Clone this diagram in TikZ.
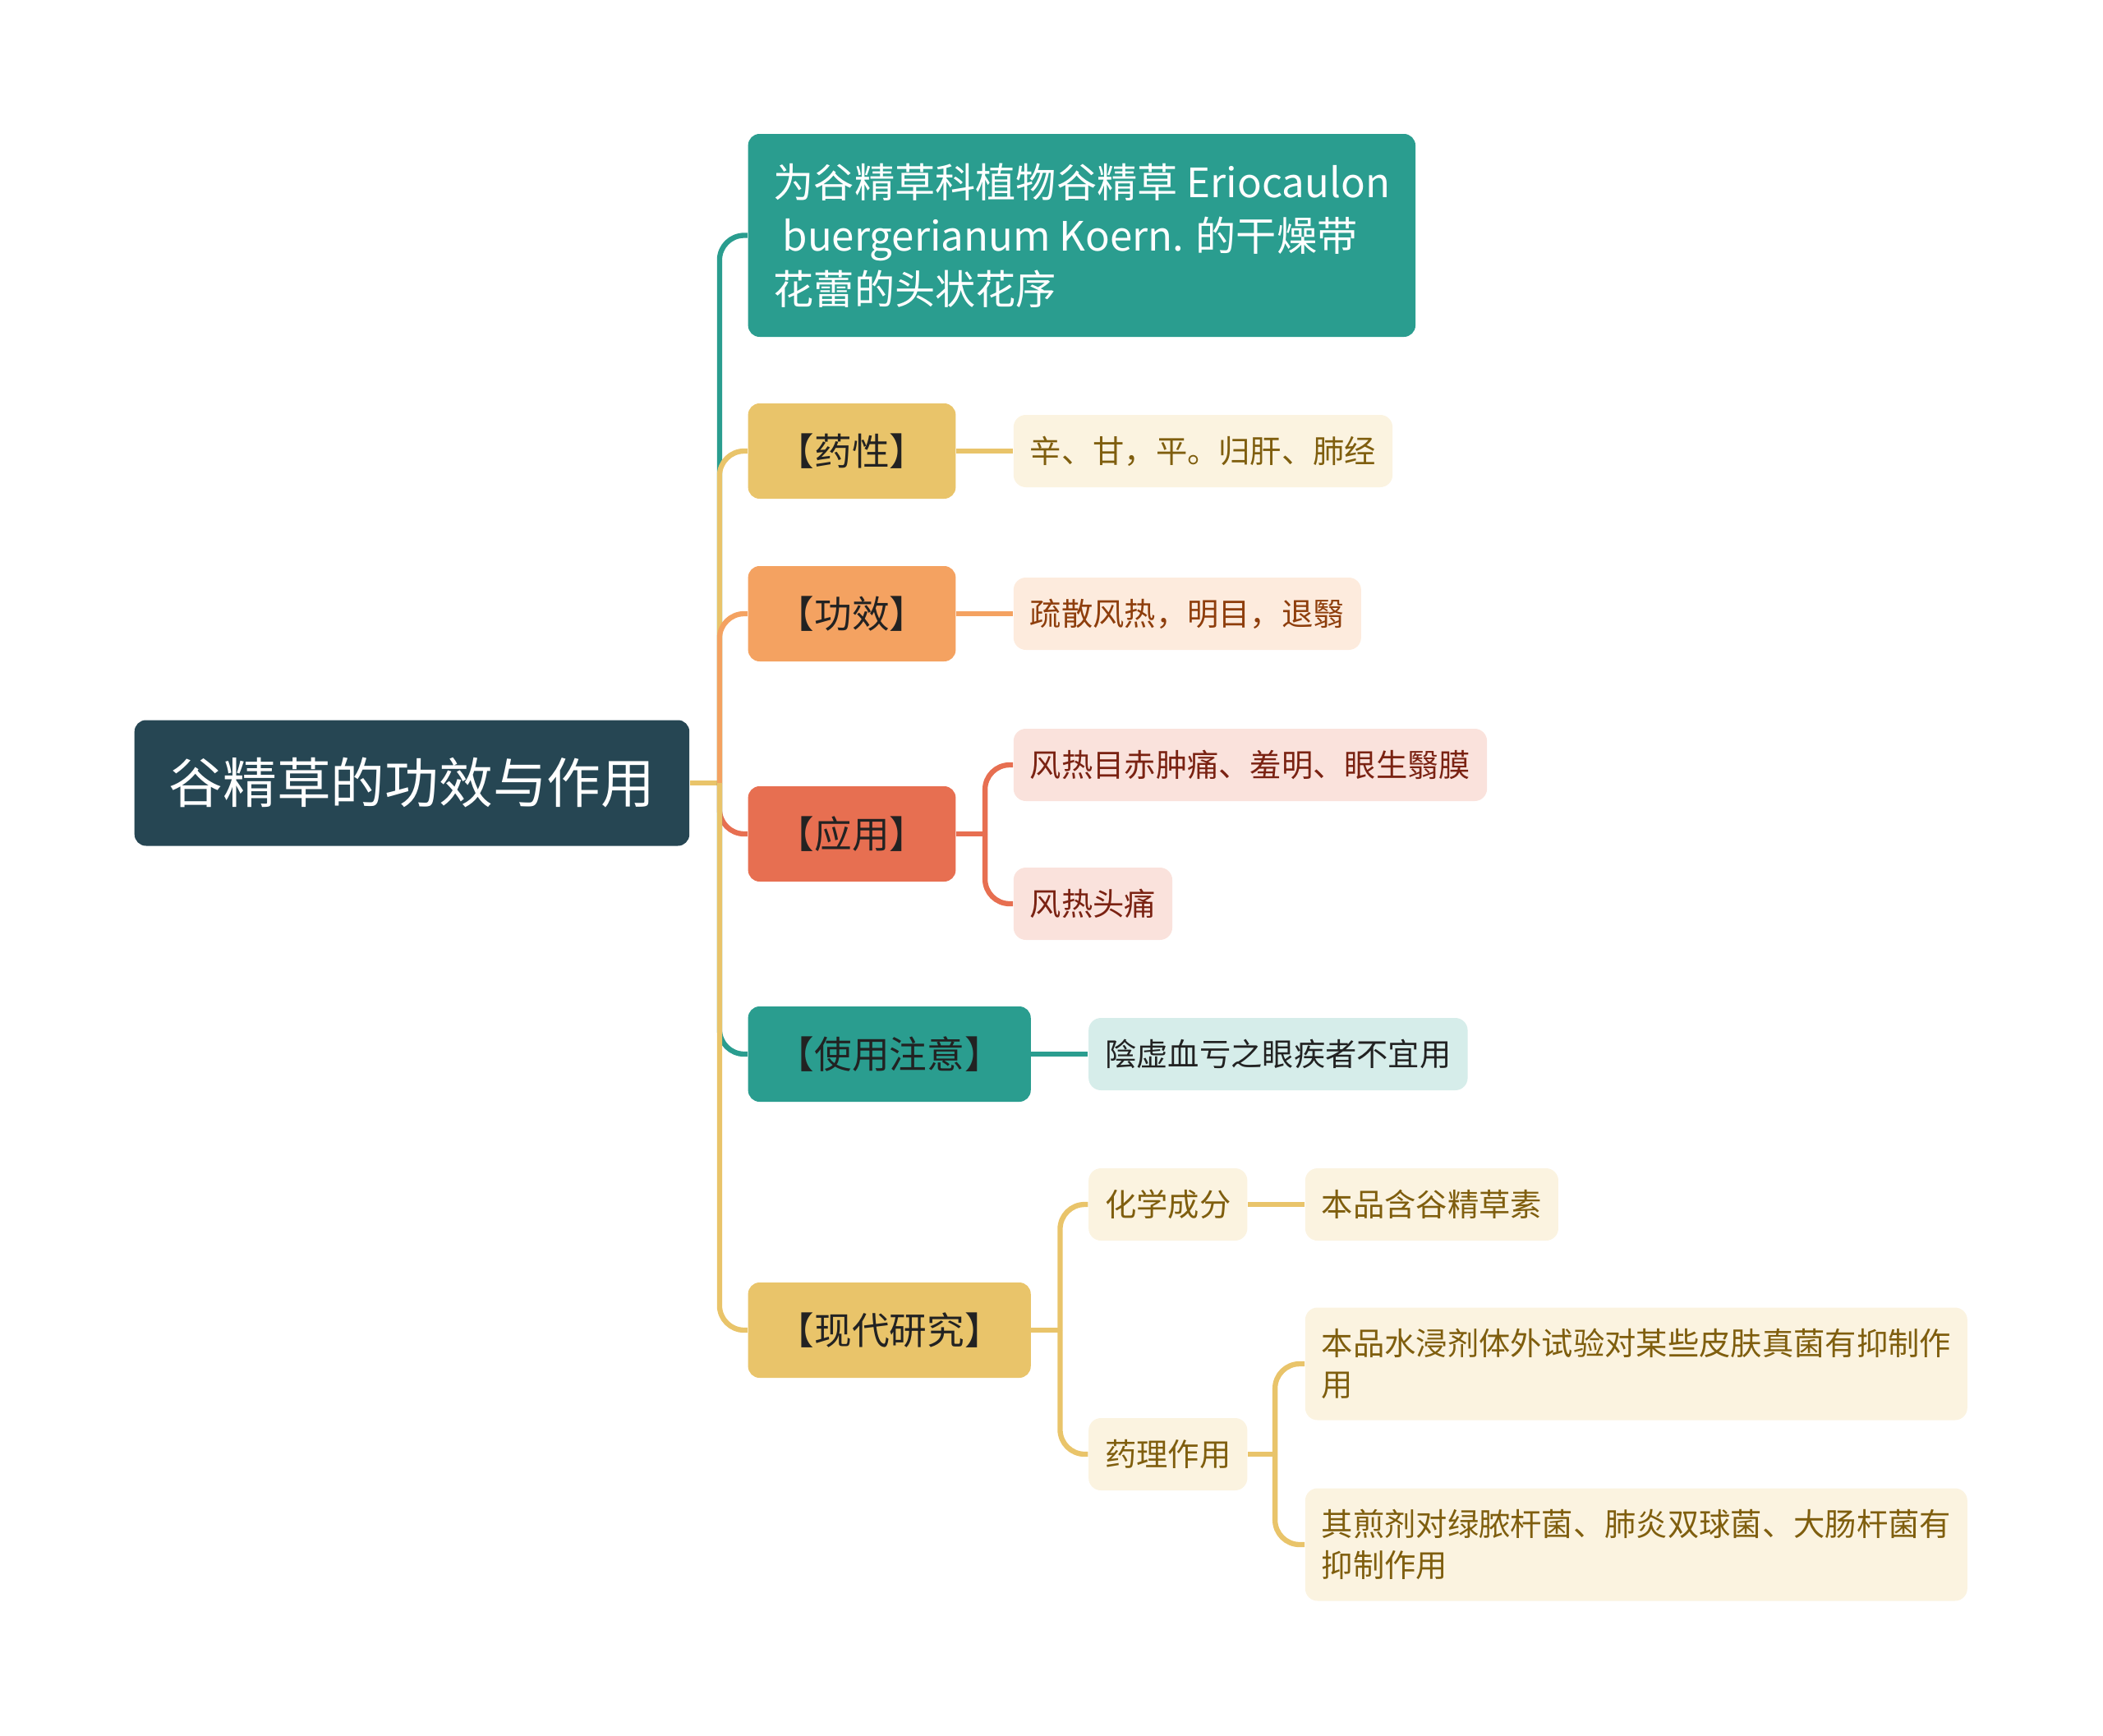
\documentclass[tikz,border=0pt]{standalone}
\usepackage{fontspec}
\setmainfont{Noto Sans CJK SC}
\usepackage{tikz}
\usetikzlibrary{positioning, calc}

\definecolor{rootBlue}{HTML}{264653}
\definecolor{cTeal}{HTML}{2A9D8F}
\definecolor{cGold}{HTML}{E9C46A}
\definecolor{cOrange}{HTML}{F4A261}
\definecolor{cRed}{HTML}{E76F51}
\definecolor{fGold}{HTML}{FBF3E0}
\definecolor{fOrange}{HTML}{FDEBDD}
\definecolor{fRed}{HTML}{FAE2DC}
\definecolor{fTeal}{HTML}{D6EDEA}
\definecolor{tGold}{HTML}{7F5E0E}
\definecolor{tOrange}{HTML}{8E3E0C}
\definecolor{tRed}{HTML}{7A2212}
\definecolor{tDark}{HTML}{222222}

\begin{document}
\begin{tikzpicture}[
    rootBox/.style={rectangle, rounded corners=0.14cm, fill=rootBlue, text=white, inner xsep=0.42cm, minimum height=1.53cm, font=\fontsize{18.7pt}{22pt}\selectfont},
    mainBox/.style={rectangle, rounded corners=0.14cm, inner xsep=0.35cm, minimum height=1.16cm, text=tDark, font=\fontsize{13pt}{16pt}\selectfont},
    mainTeal/.style={mainBox, fill=cTeal},
    mainGold/.style={mainBox, fill=cGold},
    mainOrange/.style={mainBox, fill=cOrange},
    mainRed/.style={mainBox, fill=cRed},
    leafBox/.style={rectangle, rounded corners=0.15cm, inner xsep=0.2cm, minimum height=0.88cm, font=\fontsize{10.9pt}{14.4pt}\selectfont},
    leafGold/.style={leafBox, fill=fGold, text=tGold},
    leafOrange/.style={leafBox, fill=fOrange, text=tOrange},
    leafRed/.style={leafBox, fill=fRed, text=tRed},
    leafTeal/.style={leafBox, fill=fTeal, text=tDark},
    link/.style={line width=1.8pt, rounded corners=0.3cm}
]
\useasboundingbox (0,0) rectangle (25.6,-21.13);

% ============== ROOT ==============
\node[rootBox, anchor=west] (root) at (1.63,-9.53) {谷精草的功效与作用};
\coordinate (rootJoint) at ($(root.east)+(0.36,0)$);

% ============== NIVEL 1 ==============
\node[mainTeal, right=0.7cm of root.east, yshift=6.665cm, align=left, minimum height=2.47cm, inner xsep=0.31cm, text=white, font=\fontsize{14pt}{18.5pt}\selectfont] (laiyuan) {为谷精草科植物谷精草 Eriocaulon\\\ buergerianum Koern. 的干燥带\\花蕾的头状花序};
\node[mainGold,   right=0.7cm of root.east, yshift=4.04cm]  (yaoxing)  {【药性】};
\node[mainOrange, right=0.7cm of root.east, yshift=2.06cm]  (gongxiao) {【功效】};
\node[mainRed,    right=0.7cm of root.east, yshift=-0.62cm] (yingyong) {【应用】};
\node[mainTeal,   right=0.7cm of root.east, yshift=-3.30cm] (zhuyi)    {【使用注意】};
\node[mainGold,   right=0.7cm of root.east, yshift=-6.66cm] (yanjiu)   {【现代研究】};

% ============== HOJAS ==============
\node[leafGold,   right=0.69cm of yaoxing]                (xin)     {辛、甘，平。归肝、肺经};
\node[leafOrange, right=0.69cm of gongxiao]               (shusan)  {疏散风热，明目，退翳};
\node[leafRed,    right=0.69cm of yingyong, yshift=0.84cm]  (muchi)  {风热目赤肿痛、羞明、眼生翳膜};
\node[leafRed,    right=0.69cm of yingyong, yshift=-0.85cm] (toutong) {风热头痛};
\node[leafTeal,   right=0.69cm of zhuyi]                  (yinxu)   {陰虚血亏之眼疾者不宜用};
\node[leafGold,   right=0.69cm of yanjiu, yshift=1.53cm]  (huaxue)  {化学成分};
\node[leafGold,   right=0.69cm of yanjiu, yshift=-1.51cm] (yaoli)   {药理作用};
\node[leafGold,   right=0.69cm of huaxue]                 (hansu)   {本品含谷精草素};
\node[leafGold,   right=0.69cm of yaoli, yshift=1.10cm, text width=7.66cm, align=left, minimum height=1.37cm] (shuijin) {本品水浸剂体外试验对某些皮肤真菌有抑制作\\用};
\node[leafGold,   right=0.69cm of yaoli, yshift=-1.10cm, text width=7.66cm, align=left, minimum height=1.37cm] (jianji) {其煎剂对绿脓杆菌、肺炎双球菌、大肠杆菌有\\抑制作用};

\coordinate (yyJoint) at ($(yingyong.east)+(0.35,0)$);
\coordinate (yjJoint) at ($(yanjiu.east)+(0.35,0)$);
\coordinate (ylJoint) at ($(yaoli.east)+(0.33,0)$);

% ============== Conexiones nivel 1 ==============
\draw[link, cGold] (root.east) -- (rootJoint);
\draw[link, cTeal]   (rootJoint) |- (laiyuan.west);
\draw[link, cGold]   (rootJoint) |- (yaoxing.west);
\draw[link, cOrange] (rootJoint) |- (gongxiao.west);
\draw[link, cRed]    (rootJoint) |- (yingyong.west);
\draw[link, cTeal]   (rootJoint) |- (zhuyi.west);
\draw[link, cGold]   (rootJoint) |- (yanjiu.west);

% ============== Conexiones nivel 2 ==============
\draw[link, cGold]   (yaoxing) -- (xin);
\draw[link, cOrange] (gongxiao) -- (shusan);
\draw[link, cRed]    (yingyong.east) -- (yyJoint);
\draw[link, cRed]    (yyJoint) |- (muchi.west);
\draw[link, cRed]    (yyJoint) |- (toutong.west);
\draw[link, cTeal]   (zhuyi) -- (yinxu);
\draw[link, cGold]   (yanjiu.east) -- (yjJoint);
\draw[link, cGold]   (yjJoint) |- (huaxue.west);
\draw[link, cGold]   (yjJoint) |- (yaoli.west);
\draw[link, cGold]   (huaxue) -- (hansu);
\draw[link, cGold]   (yaoli.east) -- (ylJoint);
\draw[link, cGold]   (ylJoint) |- (shuijin.west);
\draw[link, cGold]   (ylJoint) |- (jianji.west);
\end{tikzpicture}
\end{document}
